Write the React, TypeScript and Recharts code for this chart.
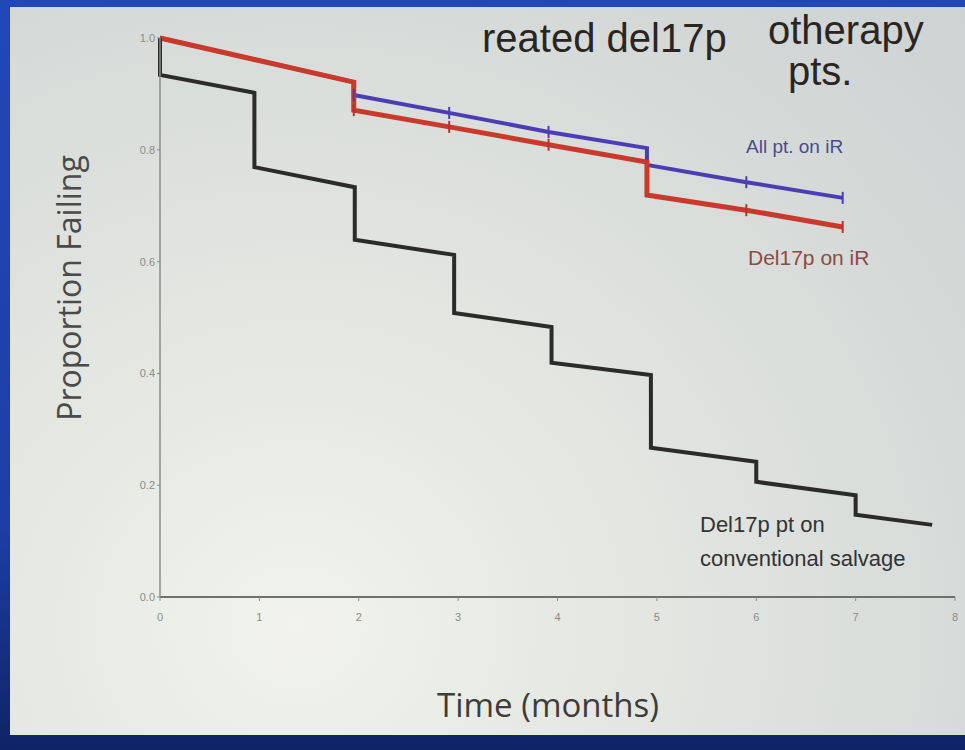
import React from "react";
import { LineChart, Line, XAxis, YAxis } from "recharts";

// Time (months) / proportion values
const allPtOnIR = [
  { t: 0, v: 1.0 },
  { t: 1.95, v: 0.921 },
  { t: 1.95, v: 0.898, c: true },
  { t: 2.91, v: 0.866, c: true },
  { t: 3.91, v: 0.832, c: true },
  { t: 4.9, v: 0.803 },
  { t: 4.9, v: 0.773 },
  { t: 5.9, v: 0.742, c: true },
  { t: 6.87, v: 0.714, c: true },
];

const del17pOnIR = [
  { t: 0, v: 1.0 },
  { t: 1.95, v: 0.921 },
  { t: 1.95, v: 0.871, c: true },
  { t: 2.91, v: 0.841, c: true },
  { t: 3.91, v: 0.809, c: true },
  { t: 4.9, v: 0.778 },
  { t: 4.9, v: 0.719 },
  { t: 5.9, v: 0.692, c: true },
  { t: 6.87, v: 0.662, c: true },
];

const del17pConventional = [
  { t: 0, v: 1.0 },
  { t: 0, v: 0.934 },
  { t: 0.95, v: 0.902 },
  { t: 0.95, v: 0.769 },
  { t: 1.96, v: 0.733 },
  { t: 1.96, v: 0.639 },
  { t: 2.96, v: 0.612 },
  { t: 2.96, v: 0.508 },
  { t: 3.94, v: 0.483 },
  { t: 3.94, v: 0.419 },
  { t: 4.94, v: 0.397 },
  { t: 4.94, v: 0.267 },
  { t: 6.0, v: 0.242 },
  { t: 6.0, v: 0.206 },
  { t: 7.0, v: 0.182 },
  { t: 7.0, v: 0.147 },
  { t: 7.77, v: 0.129 },
];

const xTicks = [0, 1, 2, 3, 4, 5, 6, 7, 8];
const yTicks = [0, 0.2, 0.4, 0.6, 0.8, 1.0];

const titleParts = ["otherapy", "reated del17p", "pts."];
const seriesLabels = ["All pt. on iR", "Del17p on iR", "Del17p pt on", "conventional salvage"];
const axisTitles = ["Time (months)", "Proportion Failing"];

const censorDot = (color: string) => (props: any) => {
  const { cx, cy, payload, index } = props;
  if (!payload || !payload.c || cx == null || cy == null) return <g key={"d" + index} />;
  return (
    <g key={"d" + index}>
      <line x1={cx} x2={cx} y1={cy - 6} y2={cy + 6} stroke={color} strokeWidth={2} />
    </g>
  );
};

export default function App() {
  const sans = "'Liberation Sans', Arial, sans-serif";
  const open = "'Open Sans', 'Noto Sans', sans-serif";
  const titleStyle = {
    position: "absolute" as const,
    fontFamily: sans,
    fontSize: 40,
    fontWeight: 400,
    color: "#2b2522",
    whiteSpace: "nowrap" as const,
    lineHeight: "40px",
  };
  return (
    <div
      style={{
        position: "absolute",
        left: 0,
        top: 0,
        width: 965,
        height: 750,
        overflow: "hidden",
        background: "linear-gradient(to bottom, #2148b8 0%, #1c3ea6 70%, #0f2465 100%)",
      }}
    >
      <div
        style={{
          position: "absolute",
          left: 10,
          top: 7,
          width: 955,
          height: 728,
          background:
            "radial-gradient(ellipse at 30% 85%, #f1f3ec 0%, #e2e5e0 40%, #d3d8d7 80%, #cdd3d3 100%)",
        }}
      />

      {/* title fragments (the top of the slide is cut off in the photo) */}
      <div style={{ ...titleStyle, left: 768, top: 10 }}>{titleParts[0]}</div>
      <div style={{ ...titleStyle, left: 482, top: 18 }}>{titleParts[1]}</div>
      <div style={{ ...titleStyle, left: 788, top: 51 }}>{titleParts[2]}</div>

      <div style={{ position: "absolute", left: 0, top: 0 }}>
        <LineChart
          width={965}
          height={750}
          margin={{ top: 38, right: 10, bottom: 123, left: 100 }}
        >
          <XAxis
            dataKey="t"
            type="number"
            domain={[0, 8]}
            ticks={xTicks}
            allowDuplicatedCategory={false}
            axisLine={{ stroke: "#6e706e", strokeWidth: 2 }}
            tickLine={{ stroke: "#8a8c8a" }}
            tickSize={4}
            tick={{ fontSize: 11, fill: "#8a8c8a", fontFamily: sans }}
            tickMargin={12}
          />
          <YAxis
            type="number"
            domain={[0, 1]}
            ticks={yTicks}
            width={60}
            axisLine={{ stroke: "#8a8c8a", strokeWidth: 1.5 }}
            tickLine={{ stroke: "#8a8c8a" }}
            tickSize={3}
            tickFormatter={(v: number) => v.toFixed(1)}
            tick={{ fontSize: 11, fill: "#8a8c8a", fontFamily: sans }}
          />
          <Line
            data={allPtOnIR}
            dataKey="v"
            type="linear"
            stroke="#4b3db4"
            strokeWidth={4}
            dot={censorDot("#4b3db4")}
            activeDot={false}
            isAnimationActive={false}
          />
          <Line
            data={del17pOnIR}
            dataKey="v"
            type="linear"
            stroke="#c9392c"
            strokeWidth={5}
            dot={censorDot("#b5352b")}
            activeDot={false}
            isAnimationActive={false}
          />
          <Line
            data={del17pConventional}
            dataKey="v"
            type="linear"
            stroke="#2b2b29"
            strokeWidth={4}
            dot={false}
            activeDot={false}
            isAnimationActive={false}
          />
        </LineChart>
      </div>

      {/* series annotations */}
      <div style={{ position: "absolute", left: 746, top: 136, fontFamily: sans, fontSize: 19, color: "#4a4a90", whiteSpace: "nowrap" }}>
        {seriesLabels[0]}
      </div>
      <div style={{ position: "absolute", left: 748, top: 246, fontFamily: sans, fontSize: 21, color: "#8e4a44", whiteSpace: "nowrap" }}>
        {seriesLabels[1]}
      </div>
      <div style={{ position: "absolute", left: 700, top: 512, fontFamily: sans, fontSize: 22, color: "#333333", whiteSpace: "nowrap" }}>
        {seriesLabels[2]}
      </div>
      <div style={{ position: "absolute", left: 700, top: 546, fontFamily: sans, fontSize: 22, color: "#333333", whiteSpace: "nowrap" }}>
        {seriesLabels[3]}
      </div>

      {/* axis titles */}
      <div style={{ position: "absolute", left: 437, top: 682, fontFamily: open, fontSize: 33, color: "#3c3c3c", whiteSpace: "nowrap" }}>
        {axisTitles[0]}
      </div>
      <div
        style={{
          position: "absolute",
          left: 68,
          top: 288,
          transform: "translate(-50%, -50%) rotate(-90deg)",
          fontFamily: open,
          fontSize: 32,
          color: "#4a4a4a",
          whiteSpace: "nowrap",
        }}
      >
        {axisTitles[1]}
      </div>
    </div>
  );
}
